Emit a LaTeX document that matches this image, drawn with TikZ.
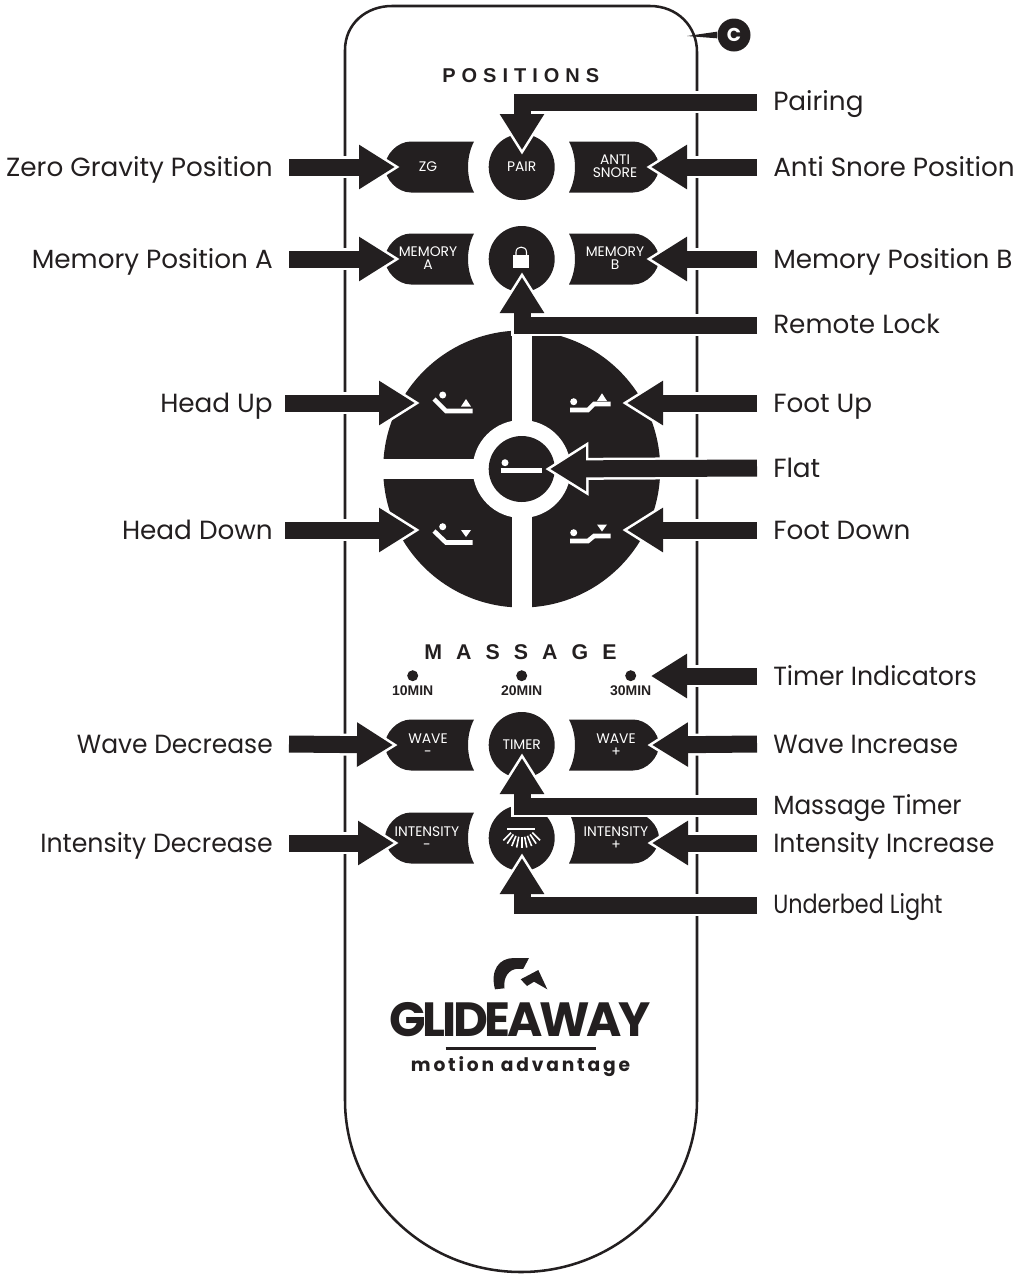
\documentclass[tikz,border=0pt]{standalone}
\usepackage{fontspec}
\usetikzlibrary{arrows.meta}
\setmainfont{Poppins}
\newfontfamily\headfont[LetterSpace = 30]{Liberation Sans Bold}
\newfontfamily\massfont[LetterSpace = 66]{Liberation Sans Bold}
\newfontfamily\minfont{Liberation Sans Bold}
\newfontfamily\logofont[LetterSpace = -7]{Poppins}
\newfontfamily\motionfont[LetterSpace = 15]{Poppins}
\definecolor{ink}{HTML}{231F20}

\begin{document}
\begin{tikzpicture}[x = 0.75pt, y = -0.75pt,
		callout/.style = {preaction = {draw = white, line width = 16.5pt, shorten > = -3.75pt, -{Triangle[length = 32.6pt, width = 38pt]}},
			draw = ink, line width = 12.75pt, -{Triangle[length = 27pt, width = 31.5pt]}},
		tag/.style = {inner sep = 0pt, text = ink, font = \fontsize{19.7pt}{21pt}\selectfont, text height = 14pt, text depth = 0pt},
		tagL/.style = {tag, anchor = east},
		tagR/.style = {tag, anchor = west},
		btn/.style = {inner sep = 0pt, text = white, align = center, font = \fontsize{10.4pt}{9.5pt}\selectfont},
		roundbtn/.style = {btn, circle, fill = ink, minimum size = 49.5pt},
		icon/.style = {draw = white, line width = 3.4pt}]
	\useasboundingbox (0, 0) rectangle (1021, 1275);
	% body of the remote
	\draw[ink, line width = 1.9pt] (345, 50) .. controls (345, 24) and (366, 6) .. (392, 6) -- (650, 6) .. controls (677, 6) and (697, 26) .. (697, 52) -- (697, 1100)
		.. controls (697, 1195) and (618, 1272) .. (521, 1272) .. controls (424, 1272) and (345, 1195) .. (345, 1100) -- cycle;
	\node[anchor = base west, inner sep = 0pt, text = ink, font = \headfont\fontsize{15pt}{15pt}\selectfont] (headPositions) at (442, 82.5) {POSITIONS};
	\node[anchor = base west, inner sep = 0pt, text = ink, font = \massfont\fontsize{16pt}{16pt}\selectfont] (headMassage) at (424, 659.5) {MASSAGE};
	% side buttons
	\foreach \cy in {167, 259, 745, 838}
		{
		\fill[ink] (474, \cy-25.5) -- (411, \cy-25.5) .. controls (397, \cy-25.5) and (385, \cy-12) .. (385, \cy) .. controls (385, \cy+12) and (397, \cy+25.5) .. (411, \cy+25.5) -- (474, \cy+25.5) .. controls (466, \cy+10) and (466, \cy-10) .. (474, \cy-25.5) -- cycle;
		\fill[ink] (569, \cy-25.5) -- (633, \cy-25.5) .. controls (647, \cy-25.5) and (659, \cy-12) .. (659, \cy) .. controls (659, \cy+12) and (647, \cy+25.5) .. (633, \cy+25.5) -- (569, \cy+25.5) .. controls (577, \cy+10) and (577, \cy-10) .. (569, \cy-25.5) -- cycle;
		}
	\node[btn] (btnZG) at (428, 167) {ZG};
	\node[btn] (btnSnore) at (615, 166) {ANTI\\SNORE};
	\node[btn] (btnMemA) at (428, 258) {MEMORY\\A};
	\node[btn] (btnMemB) at (615, 258) {MEMORY\\B};
	\node[btn] (btnWaveDown) at (428, 745) {WAVE\\-};
	\node[btn] (btnWaveUp) at (616, 745) {WAVE\\+};
	\node[btn] (btnIntDown) at (427, 838) {INTENSITY\\-};
	\node[btn] (btnIntUp) at (616, 838) {INTENSITY\\+};
	% centre buttons
	\node[roundbtn] (btnPair) at (521.7, 167) {PAIR};
	\node[roundbtn] (btnLock) at (521.7, 259) {};
	\node[roundbtn] (btnTimer) at (521.7, 745) {TIMER};
	\node[roundbtn] (btnLight) at (521.7, 838) {};
	\fill[white] (513, 255) rectangle (529.3, 268.3);
	\draw[white, line width = 0.8pt] (516, 255) -- (516, 252) .. controls (516, 245.5) and (526.5, 245.5) .. (526.5, 252) -- (526.5, 255);
	\draw[white, line width = 1.6pt] (507.3, 828.7) -- (535, 828.7);
	\foreach \a in {45, 56.25, ..., 135}
		\draw[white, line width = 1.2pt, shift = {(521.7, 822)}] (\a:15) -- (\a:26);
	% timer dots
	\foreach \x/\t in {412.7/10MIN, 521.7/20MIN, 630.7/30MIN}
		{
		\fill[ink] (\x, 675.7) circle[radius = 5.5];
		\node[inner sep = 0pt, text = ink, font = \minfont\fontsize{10.5pt}{11pt}\selectfont] (min\t) at (\x, 691) {\t};
		}
	% direction pad
	\fill[ink] (521.7, 469) circle[radius = 138.5];
	\fill[white] (511.7, 325) rectangle (531.7, 613);
	\fill[white] (378, 459) rectangle (665, 479);
	\fill[white] (521.7, 469) circle[radius = 49];
	\node[roundbtn] (btnFlat) at (521.7, 469) {};
	% bed icons
	\fill[white] (442.7, 395) circle[radius = 3.5];
	\draw[icon] (434, 399) -- (446, 411) -- (472.7, 411);
	\fill[white] (466, 399) -- (471, 406.5) -- (461, 406.5) -- cycle;
	\fill[white] (442.7, 526.7) circle[radius = 3.5];
	\draw[icon] (434, 531) -- (446, 542.5) -- (472.7, 542.5);
	\fill[white] (461, 530) -- (471, 530) -- (466, 537) -- cycle;
	\fill[white] (573.7, 401.7) circle[radius = 3.5];
	\draw[icon] (570, 410) -- (588, 410) -- (594, 404) -- (610.7, 404);
	\fill[white] (602, 393.3) -- (607, 401) -- (597, 401) -- cycle;
	\fill[white] (573.7, 532.7) circle[radius = 3.5];
	\draw[icon] (570, 541) -- (588, 541) -- (594, 536) -- (610.7, 536);
	\fill[white] (597, 524.5) -- (607, 524.5) -- (602, 531.5) -- cycle;
	\fill[white] (505, 462.7) circle[radius = 3.5];
	\draw[icon] (500.7, 470.7) -- (542.3, 470.7);
	% logo
	\fill[ink] (495, 989.3) .. controls (490, 970) and (499, 958) .. (514, 958) -- (529, 958) -- (523.3, 968.8) -- (517, 968.8) .. controls (509, 969.5) and (503, 977) .. (504.5, 988.3) -- cycle;
	\fill[ink] (520.7, 979.3) -- (538.3, 970) -- (547.3, 989.3) -- (534, 981.7) -- (527, 986) -- cycle;
	\node[inner sep = 0pt, text = ink, font = \logofont\bfseries\fontsize{36pt}{36pt}\selectfont, text height = 26pt, text depth = 0pt] (logoName) at (520, 1019.5) {GLIDEAWAY};
	\draw[ink, line width = 2.2pt] (445.7, 1048.7) -- (596, 1048.7);
	\node[anchor = base, inner sep = 0pt, text = ink, font = \motionfont\bfseries\fontsize{14pt}{14pt}\selectfont] (logoTag) at (520.5, 1071) {motion advantage};
	% labels
	\node[tagR] (lblPair) at (773, 101) {Pairing};
	\node[tagL] (lblZG) at (273, 167) {Zero Gravity Position};
	\node[tagR] (lblSnore) at (773, 167) {Anti Snore Position};
	\node[tagL] (lblMemA) at (273, 259) {Memory Position A};
	\node[tagR] (lblMemB) at (773, 259) {Memory Position B};
	\node[tagR] (lblLock) at (773, 324) {Remote Lock};
	\node[tagL] (lblHeadUp) at (273, 403) {Head Up};
	\node[tagR] (lblFootUp) at (773, 403) {Foot Up};
	\node[tagR] (lblFlat) at (773, 468) {Flat};
	\node[tagL] (lblHeadDown) at (273, 530) {Head Down};
	\node[tagR] (lblFootDown) at (773, 530) {Foot Down};
	\node[tagR] (lblTimers) at (773, 676) {\scalebox{0.96}[1]{Timer Indicators}};
	\node[tagL] (lblWaveDown) at (273, 744) {\scalebox{0.95}[1]{Wave Decrease}};
	\node[tagR] (lblWaveUp) at (773, 744) {\scalebox{0.95}[1]{Wave Increase}};
	\node[tagR] (lblTimer) at (773, 805) {\scalebox{0.94}[1]{Massage Timer}};
	\node[tagL] (lblIntDown) at (273, 843) {\scalebox{0.96}[1]{Intensity Decrease}};
	\node[tagR] (lblIntUp) at (773, 843) {\scalebox{0.96}[1]{Intensity Increase}};
	\node[tagR] (lblLight) at (773, 904) {\scalebox{0.85}[1]{Underbed Light}};
	% arrow tips
	\foreach \n/\x/\y in {ZG/395/167, Snore/651/167, MemA/395/259, MemB/651/259, HeadUp/415/403, FootUp/627/403, Flat/550/469, HeadDown/415/530, FootDown/627/530, Timers/651/676, WaveDown/393/745, WaveUp/652/745, IntDown/394/843, IntUp/652/843}
		\coordinate (tip\n) at (\x, \y);
	\coordinate (tipPair) at (522, 150);
	\coordinate (tipLock) at (522, 277);
	\coordinate (tipTimer) at (522, 758);
	\coordinate (tipLight) at (522, 858);
	% arrows
	\foreach \n in {ZG, MemA, WaveDown, IntDown}
		\draw[callout] ([xshift = 12pt]lbl\n.east) -- (tip\n);
	\foreach \n in {HeadUp, HeadDown}
		\draw[callout] ([xshift = 9pt]lbl\n.east) -- (tip\n);
	\foreach \n in {Snore, MemB, FootUp, Flat, FootDown, Timers, WaveUp, IntUp}
		\draw[callout] ([xshift = -12pt]lbl\n.west) -- (tip\n);
	\foreach \n in {Pair, Lock, Timer, Light}
		\draw[callout] ([xshift = -12pt, yshift = -1pt]lbl\n.west) -| (tip\n);
	% badge
	\node[circle, fill = ink, inner sep = 0pt, minimum size = 24.75pt, text = white, font = \bfseries\fontsize{14pt}{14pt}\selectfont] (badgeC) at (734, 35) {C};
	\coordinate (tipC) at (687, 36);
	\fill[ink] (tipC) -- ([yshift = 2.5pt]badgeC.west) -- ([yshift = -2.5pt]badgeC.west) -- cycle;
\end{tikzpicture}
\end{document}
